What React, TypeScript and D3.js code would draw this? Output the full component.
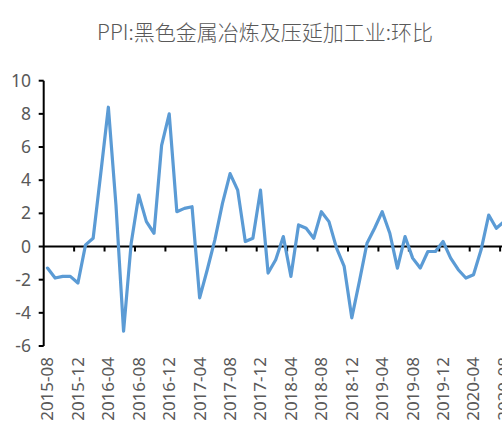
import React from "react";
import * as d3 from "d3";

const title = "PPI:黑色金属冶炼及压延加工业:环比";

const months: string[] = [
  "2015-08","2015-09","2015-10","2015-11","2015-12","2016-01","2016-02","2016-03",
  "2016-04","2016-05","2016-06","2016-07","2016-08","2016-09","2016-10","2016-11",
  "2016-12","2017-01","2017-02","2017-03","2017-04","2017-05","2017-06","2017-07",
  "2017-08","2017-09","2017-10","2017-11","2017-12","2018-01","2018-02","2018-03",
  "2018-04","2018-05","2018-06","2018-07","2018-08","2018-09","2018-10","2018-11",
  "2018-12","2019-01","2019-02","2019-03","2019-04","2019-05","2019-06","2019-07",
  "2019-08","2019-09","2019-10","2019-11","2019-12","2020-01","2020-02","2020-03",
  "2020-04","2020-05","2020-06","2020-07","2020-08",
];

const values: number[] = [
  -1.3, -1.9, -1.8, -1.8, -2.2, 0.1, 0.5, 4.4,
  8.4, 2.5, -5.1, 0.2, 3.1, 1.5, 0.8, 6.1,
  8.0, 2.1, 2.3, 2.4, -3.1, -1.4, 0.4, 2.6,
  4.4, 3.4, 0.3, 0.5, 3.4, -1.6, -0.8, 0.6,
  -1.8, 1.3, 1.1, 0.5, 2.1, 1.5, -0.1, -1.2,
  -4.3, -2.1, 0.2, 1.1, 2.1, 0.8, -1.3, 0.6,
  -0.7, -1.3, -0.3, -0.3, 0.3, -0.7, -1.4, -1.9,
  -1.7, -0.2, 1.9, 1.1, 1.5,
];

const yTicks: number[] = [-6, -4, -2, 0, 2, 4, 6, 8, 10];

const W = 502;
const H = 427;
const left = 43.7;
const step = 7.607;

export default function App() {
  const x = d3
    .scaleBand<string>()
    .domain(months)
    .range([left, left + months.length * step])
    .paddingInner(0)
    .paddingOuter(0);
  const y = d3.scaleLinear().domain([-6, 10]).range([346, 80.7]);
  const cx = (m: string) => (x(m) as number) + x.bandwidth() / 2;

  const line = d3
    .line<number>()
    .x((_, i) => cx(months[i]))
    .y((d) => y(d));

  const labelIdx = months.map((_, i) => i).filter((i) => i % 4 === 0);
  const tickIdx = labelIdx.filter((i) => i > 0);

  const textColor = "#595959";
  const font = "'Noto Sans', 'Noto Sans CJK SC', sans-serif";

  return (
    <div style={{ position: "absolute", left: 0, top: 0, width: W, height: H, overflow: "hidden" }}>
      <svg width={W} height={H} style={{ display: "block", background: "#fff" }}>
        <text
          x={265}
          y={40}
          textAnchor="middle"
          fontFamily="'Noto Sans CJK SC', sans-serif"
          fontSize={21}
          fontWeight={300}
          fill={textColor}
        >
          {title}
        </text>

        {/* Y axis */}
        <line x1={left} x2={left} y1={y(10)} y2={y(-6)} stroke="#000" strokeWidth={2} />
        {yTicks.map((t) => (
          <g key={t}>
            <line x1={left - 5} x2={left} y1={y(t)} y2={y(t)} stroke="#000" strokeWidth={2} />
            <text
              x={31}
              y={y(t)}
              dy="0.35em"
              textAnchor="end"
              fontFamily={font}
              fontSize={17.5}
              fill={textColor}
            >
              {t}
            </text>
          </g>
        ))}

        {/* X axis at zero */}
        <line x1={left} x2={W + 20} y1={y(0)} y2={y(0)} stroke="#000" strokeWidth={2} />
        {tickIdx.map((i) => (
          <line
            key={i}
            x1={x(months[i]) as number}
            x2={x(months[i]) as number}
            y1={y(0)}
            y2={y(0) + 5}
            stroke="#000"
            strokeWidth={2}
          />
        ))}

        {/* Data line */}
        <path
          d={line(values) || ""}
          fill="none"
          stroke="#5B9BD5"
          strokeWidth={3.2}
          strokeLinejoin="round"
          strokeLinecap="round"
        />

        {/* X labels */}
        {labelIdx.map((i) => (
          <text
            key={i}
            transform={`translate(${cx(months[i])},${357}) rotate(-90)`}
            dy="0.35em"
            textAnchor="end"
            fontFamily={font}
            fontSize={17}
            fill={textColor}
          >
            {months[i]}
          </text>
        ))}
      </svg>
    </div>
  );
}
